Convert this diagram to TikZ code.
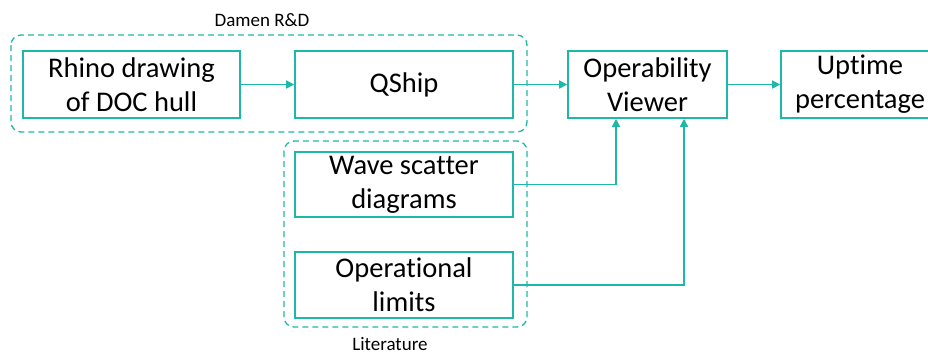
\documentclass[tikz,border=0pt]{standalone}
\usepackage{fontspec}
\setmainfont{Carlito}[Ligatures=NoCommon]
\usetikzlibrary{arrows.meta}
\definecolor{teal1}{RGB}{30,184,168}
\begin{document}
\begin{tikzpicture}[x=1pt,y=-1pt,
  box/.style={draw=teal1,line width=1.6pt,rectangle,inner sep=0pt,align=center,
    font=\fontsize{28.5}{34}\selectfont,text=black},
  grp/.style={draw=teal1,line width=1.3pt,dash pattern=on 6pt off 4pt,rounded corners=10pt},
  lbl/.style={font=\fontsize{19}{22}\selectfont,text=black,inner sep=0pt},
  conn/.style={draw=teal1,line width=1.5pt,-{Triangle[length=8pt,width=8pt]}}]
\useasboundingbox (0,0) rectangle (928,354);
\draw[grp] (11,35) rectangle (527,132);
\draw[grp] (284,141) rectangle (527,327);
\node[lbl] (dlab) at (262,20) {Damen R\&D};
\node[lbl] (llab) at (390,344) {Literature};
\node[box,minimum width=217pt,minimum height=67pt] (rhino) at (131.5,84.5) {Rhino drawing\\of DOC hull};
\node[box,minimum width=218pt,minimum height=67pt] (qship) at (404,84.5) {QShip};
\node[box,minimum width=159pt,minimum height=67pt] (oper) at (647.5,84.5) {Operability\\Viewer};
\node[box,minimum width=158pt,minimum height=67pt] (up) at (860,84.5) {Uptime\\percentage};
\node[box,minimum width=218pt,minimum height=65pt] (wave) at (404,184.5) {Wave scatter\\diagrams};
\node[box,minimum width=218pt,minimum height=66pt] (opl) at (404,285) {Operational\\limits};
\draw[conn] (rhino) -- (qship);
\draw[conn] (qship) -- (oper);
\draw[conn] (oper) -- (up);
\draw[conn] (wave.east) -| (oper.south -| 616,0);
\draw[conn] (opl.east) -| (oper.south -| 684,0);
\end{tikzpicture}
\end{document}
